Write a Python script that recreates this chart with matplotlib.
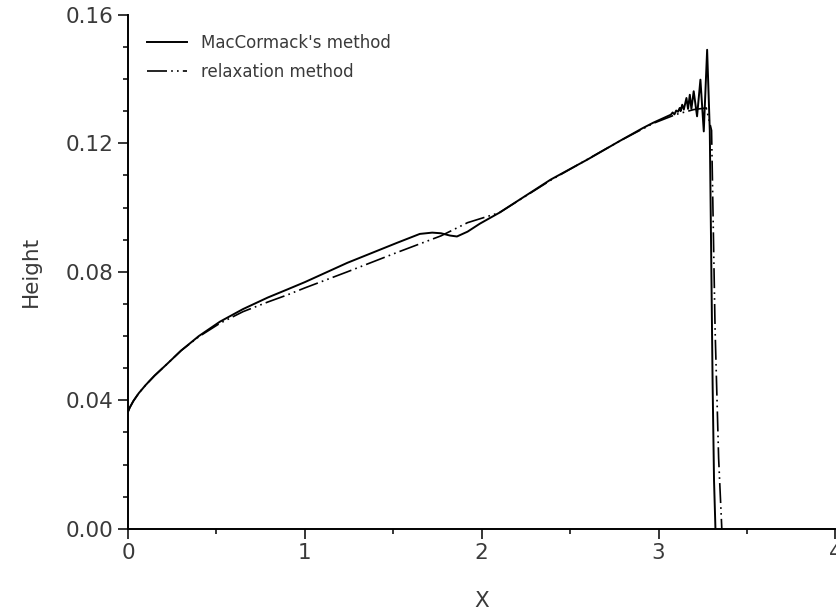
import matplotlib
matplotlib.use("Agg")
import matplotlib.pyplot as plt
from matplotlib.ticker import MultipleLocator

# MacCormack's method: surge profile with oscillations behind the front
mac_x = [0.00, 0.01, 0.03, 0.06, 0.10, 0.15, 0.22, 0.30, 0.40, 0.52, 0.65,
         0.79, 0.90, 1.00, 1.24, 1.52, 1.65, 1.72, 1.77, 1.82, 1.86, 1.92,
         1.99, 2.10, 2.39, 2.60, 2.78, 2.91, 2.97, 3.07, 3.08, 3.09, 3.10,
         3.11, 3.12, 3.125, 3.134, 3.143, 3.158, 3.167, 3.177, 3.186, 3.199,
         3.218, 3.237, 3.256, 3.275, 3.290, 3.298, 3.306, 3.314, 3.322]
mac_h = [0.0365, 0.0378, 0.0398, 0.0422, 0.0448, 0.0477, 0.0513, 0.0555,
         0.0600, 0.0645, 0.0684, 0.0720, 0.0745, 0.0768, 0.0828, 0.0890,
         0.0918, 0.0922, 0.0920, 0.0913, 0.0910, 0.0925, 0.0950, 0.0984,
         0.1087, 0.1150, 0.1207, 0.1247, 0.1264, 0.1289, 0.1296, 0.1290,
         0.1302, 0.1298, 0.1310, 0.1300, 0.1320, 0.1305, 0.1341, 0.1307,
         0.1351, 0.1307, 0.1362, 0.1284, 0.1398, 0.1237, 0.1491, 0.1240,
         0.0850, 0.0450, 0.0150, 0.0000]

# relaxation method
rel_x = [0.00, 0.01, 0.03, 0.06, 0.10, 0.15, 0.22, 0.30, 0.40, 0.52, 0.65,
         0.79, 0.90, 1.00, 1.24, 1.52, 1.77, 1.92, 2.10, 2.39, 2.78, 2.97,
         3.10, 3.20, 3.27, 3.30, 3.32, 3.34, 3.358]
rel_h = [0.0365, 0.0378, 0.0398, 0.0422, 0.0448, 0.0477, 0.0513, 0.0555,
         0.0598, 0.0640, 0.0676, 0.0706, 0.0728, 0.0750, 0.0800, 0.0860,
         0.0912, 0.0953, 0.0984, 0.1085, 0.1207, 0.1262, 0.1290, 0.1305,
         0.1310, 0.1240, 0.0620, 0.0220, 0.0000]

plt.rcParams['font.family'] = ['DejaVu Sans']
txt_color = '#3a3a3a'

fig = plt.figure(figsize=(8.37, 6.15), dpi=100)
ax = fig.add_axes([0.153, 0.140, 0.845, 0.836])

ax.plot(mac_x, mac_h, color='black', lw=1.4, label="MacCormack's method")
ax.plot(rel_x, rel_h, color='black', lw=1.2,
        linestyle=(0, (12, 2.5, 1, 2.5, 1, 2.5)), label='relaxation method')

ax.set_xlim(0, 4)
ax.set_ylim(0, 0.16)
ax.xaxis.set_major_locator(MultipleLocator(1))
ax.xaxis.set_minor_locator(MultipleLocator(0.5))
ax.yaxis.set_major_locator(MultipleLocator(0.04))
ax.yaxis.set_minor_locator(MultipleLocator(0.01))
ax.yaxis.set_major_formatter(plt.FormatStrFormatter('%.2f'))

for side in ['top', 'right']:
    ax.spines[side].set_visible(False)
for side in ['left', 'bottom']:
    ax.spines[side].set_linewidth(1.4)

ax.tick_params(which='major', direction='out', length=7.5, width=1.1,
               labelsize=15.5, labelcolor=txt_color, pad=3)
ax.tick_params(which='minor', direction='out', length=3.5, width=1.1)

ax.set_xlabel('X', fontsize=15.5, color=txt_color, labelpad=20)
ax.set_ylabel('Height', fontsize=15.5, color=txt_color, labelpad=18)

ax.legend(loc='upper left', bbox_to_anchor=(0.0, 1.0), frameon=False,
          fontsize=12, handlelength=2.4, handletextpad=0.8,
          labelspacing=0.65, borderaxespad=0.75, labelcolor=txt_color)

fig.savefig('out.png', dpi=100)
